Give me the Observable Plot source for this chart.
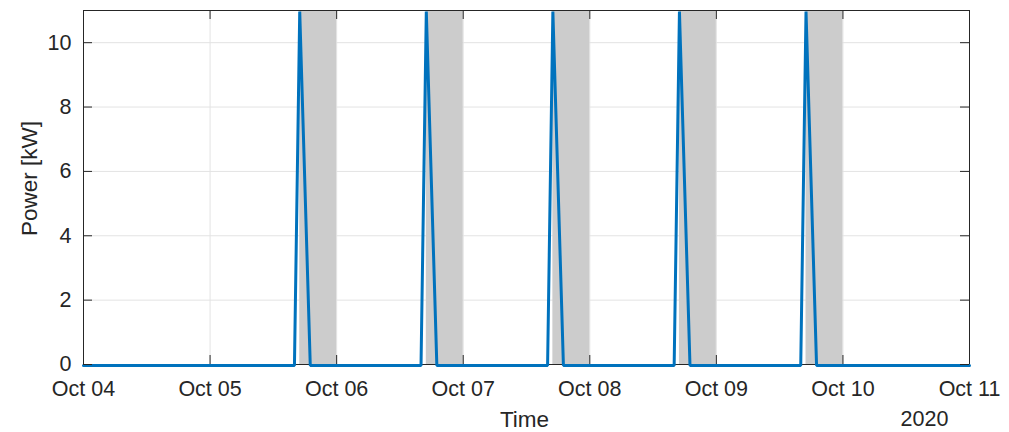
<!DOCTYPE html>
<html>
<head>
<meta charset="utf-8">
<script src="https://cdn.jsdelivr.net/npm/d3@7"></script>
<script src="https://cdn.jsdelivr.net/npm/@observablehq/plot@0.6"></script>
<style>
  html, body { margin: 0; padding: 0; background: #fff; overflow: hidden; }
</style>
</head>
<body>
<div id="chart"></div>
<script>
// Hourly power readings (kW); the charger only draws power in a short evening burst.
const times = [
  "2020-10-04T00:00Z",
  "2020-10-05T16:00Z", "2020-10-05T17:00Z", "2020-10-05T19:00Z",
  "2020-10-06T16:00Z", "2020-10-06T17:00Z", "2020-10-06T19:00Z",
  "2020-10-07T16:00Z", "2020-10-07T17:00Z", "2020-10-07T19:00Z",
  "2020-10-08T16:00Z", "2020-10-08T17:00Z", "2020-10-08T19:00Z",
  "2020-10-09T16:00Z", "2020-10-09T17:00Z", "2020-10-09T19:00Z",
  "2020-10-11T00:00Z"
];
const power = [
  0,
  0, 11, 0,
  0, 11, 0,
  0, 11, 0,
  0, 11, 0,
  0, 11, 0,
  0
];

// Evening peak windows (shaded)
const peakStart = ["2020-10-05T17:00Z", "2020-10-06T17:00Z", "2020-10-07T17:00Z", "2020-10-08T17:00Z", "2020-10-09T17:00Z"];
const peakEnd   = ["2020-10-06T00:00Z", "2020-10-07T00:00Z", "2020-10-08T00:00Z", "2020-10-09T00:00Z", "2020-10-10T00:00Z"];

// Axis ticks
const xTicks = ["2020-10-04", "2020-10-05", "2020-10-06", "2020-10-07", "2020-10-08", "2020-10-09", "2020-10-10", "2020-10-11"];
const yTicks = [0, 2, 4, 6, 8, 10];
const yDomain = [0, 11];
const yearLabel = ["2020"];
const xLabel = ["Time"];
const yLabel = ["Power [kW]"];

const series = times.map((t, i) => ({time: new Date(t), power: power[i]}));
const peaks = peakStart.map((s, i) => ({start: new Date(s), end: new Date(peakEnd[i])}));
const xTickDates = xTicks.map(d => new Date(d + "T00:00Z"));

const ink = "#262626";
const blue = "#0072bd";
const gridColor = "#e3e3e3";
const font = "'Liberation Sans', Arial, Helvetica, sans-serif";

const chart = Plot.plot({
  width: 1009,
  height: 432,
  marginLeft: 83,
  marginRight: 40,
  marginTop: 10,
  marginBottom: 68,
  style: {fontFamily: font, fontSize: "21.5px", color: ink, background: "#fff", overflow: "visible"},
  x: {type: "utc", domain: [xTickDates[0], xTickDates[xTickDates.length - 1]]},
  y: {domain: yDomain},
  marks: [
    // grid
    Plot.gridX(xTickDates, {stroke: gridColor, strokeOpacity: 1}),
    Plot.gridY(yTicks, {stroke: gridColor, strokeOpacity: 1}),
    // shaded peak windows
    Plot.rect(peaks, {x1: "start", x2: "end", fill: "#cccccc"}),
    // box
    Plot.frame({stroke: ink, strokeWidth: 1}),
    // power trace, sitting just on top of the lower axis line
    Plot.line(series, {x: "time", y: "power", stroke: blue, strokeWidth: 3, strokeLinejoin: "miter", dy: 1}),
    // inward ticks on all four sides
    Plot.tickX(xTickDates, {x: d => d, stroke: ink, insetTop: 345}),
    Plot.tickX(xTickDates, {x: d => d, stroke: ink, insetBottom: 345}),
    Plot.tickY(yTicks, {y: d => d, stroke: ink, insetRight: 877}),
    Plot.tickY(yTicks, {y: d => d, stroke: ink, insetLeft: 877}),
    // tick labels
    Plot.axisX(xTickDates, {tickSize: 0, tickPadding: 16, tickFormat: d3.utcFormat("%b %d"), label: null, fill: ink}),
    Plot.axisY(yTicks, {tickSize: 0, tickPadding: 12, label: null, fill: ink}),
    // axis titles
    Plot.text(xLabel, {text: d => d, frameAnchor: "bottom", textAnchor: "middle", lineAnchor: "bottom", dx: -2, dy: 62.5, fontSize: 22.5, fill: ink}),
    Plot.text(yearLabel, {text: d => d, frameAnchor: "bottom-right", textAnchor: "middle", lineAnchor: "bottom", dx: -45, dy: 61, fontSize: 21.5, fill: ink}),
    Plot.text(yLabel, {text: d => d, frameAnchor: "left", textAnchor: "middle", rotate: -90, lineAnchor: "bottom", dx: -47, dy: -9, fontSize: 22.5, fill: ink})
  ]
});

document.getElementById("chart").appendChild(chart);
</script>
</body>
</html>
